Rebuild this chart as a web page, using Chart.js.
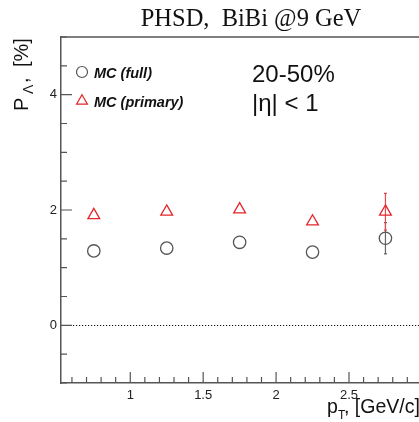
<!DOCTYPE html>
<html><head><meta charset="utf-8">
<script src="https://cdn.jsdelivr.net/npm/chart.js@4/dist/chart.umd.min.js"></script>
<style>
html,body{margin:0;padding:0;background:#fff;overflow:hidden;width:419px;height:422px}
#wrap{position:relative;width:430px;height:422px}
</style></head>
<body><div id="wrap"><canvas id="c" width="430" height="422"></canvas></div>
<script>
// ---- data ----
const pT = [0.75, 1.25, 1.75, 2.25, 2.75];
const mcFull = [1.29, 1.34, 1.44, 1.27, 1.51];
const mcFullErr = [0, 0, 0, 0, 0.27];
const mcPrimary = [1.91, 1.97, 2.01, 1.80, 1.97];
const mcPrimaryErr = [0, 0, 0, 0, 0.32];
const seriesLabels = ['MC (full)', 'MC (primary)'];
const xTickValues = [1, 1.5, 2, 2.5];
const yTickValues = [0, 2, 4];
const chartTitle = 'PHSD,  BiBi @9 GeV';
const annotationLines = ['20-50%', '|\u03b7| < 1'];
const xTitleParts = ['p', 'T', ', [GeV/c]'];
const yTitleParts = ['P', '\u039b', ',', '[%]'];

const GRAY = '#555555';
const RED = '#e3262b';

const decor = {
  id: 'decor',
  beforeDatasetsDraw(chart) {
    const {ctx, chartArea: a, scales: {x, y}} = chart;
    ctx.save();
    // dotted zero line
    ctx.strokeStyle = '#111';
    ctx.lineWidth = 1;
    ctx.setLineDash([1.2, 1.8]);
    const y0 = Math.round(y.getPixelForValue(0)) + 0.5;
    ctx.beginPath(); ctx.moveTo(a.left, y0); ctx.lineTo(a.right, y0); ctx.stroke();
    ctx.setLineDash([]);
    // error bars
    const errs = [[mcFull, mcFullErr, '#666'], [mcPrimary, mcPrimaryErr, '#e8484c']];
    errs.forEach(([vals, e, col]) => {
      ctx.strokeStyle = col; ctx.lineWidth = 1.2;
      vals.forEach((v, i) => {
        if (!e[i]) return;
        const px = x.getPixelForValue(pT[i]);
        const t = y.getPixelForValue(v + e[i]);
        const b = y.getPixelForValue(v - e[i]);
        ctx.beginPath();
        ctx.moveTo(px, t); ctx.lineTo(px, b);
        ctx.moveTo(px - 1.5, t); ctx.lineTo(px + 1.5, t);
        ctx.moveTo(px - 1.5, b); ctx.lineTo(px + 1.5, b);
        ctx.stroke();
      });
    });
    ctx.restore();
  },
  afterDraw(chart) {
    const {ctx, chartArea: a, scales: {x, y}} = chart;
    ctx.save();
    // top frame
    ctx.strokeStyle = GRAY; ctx.lineWidth = 1.5;
    ctx.beginPath(); ctx.moveTo(a.left, a.top); ctx.lineTo(a.right, a.top); ctx.stroke();
    // inside ticks
    ctx.lineWidth = 1.2;
    ctx.beginPath();
    for (let k = Math.ceil(y.min / 0.5); k * 0.5 <= y.max + 1e-9; k++) {
      const v = k * 0.5;
      const py = y.getPixelForValue(v);
      const len = (Math.abs(v % 2) < 1e-9) ? 11 : 6;
      ctx.moveTo(a.left, py); ctx.lineTo(a.left + len, py);
    }
    for (let k = Math.ceil(x.min / 0.1); k * 0.1 <= x.max + 1e-9; k++) {
      const v = k * 0.1;
      const px = x.getPixelForValue(v);
      const len = (k % 5 === 0) ? 11 : 6;
      ctx.moveTo(px, a.bottom); ctx.lineTo(px, a.bottom - len);
    }
    ctx.stroke();

    // title
    ctx.fillStyle = '#111';
    ctx.font = '24.5px "Liberation Serif"';
    ctx.textAlign = 'center'; ctx.textBaseline = 'alphabetic';
    ctx.fillText(chartTitle, 251, 26);

    // annotation
    ctx.textAlign = 'left';
    ctx.font = '24px "Liberation Sans"';
    ctx.fillText(annotationLines[0], 252, 82);
    ctx.fillText(annotationLines[1], 252, 111);

    // legend
    chart.data.datasets.forEach((ds, i) => {
      const ly = 72 + i * 29;
      ctx.strokeStyle = ds.borderColor;
      ctx.fillStyle = 'rgba(0,0,0,0)';
      ctx.lineWidth = 1.2;
      Chart.helpers.drawPoint(ctx, {pointStyle: ds.pointStyle, radius: ds.pointStyle === 'triangle' ? 6.3 : 5.5, rotation: 0, borderWidth: 1.2}, 82, ly);
      ctx.fillStyle = '#111';
      ctx.font = 'italic bold 14.5px "Liberation Sans"';
      ctx.fillText(ds.label, 94, ly + 6);
    });

    // x title
    ctx.fillStyle = '#111';
    ctx.font = '19.5px "Liberation Sans"';
    ctx.fillText(xTitleParts[0], 327, 413);
    ctx.font = '12px "Liberation Sans"';
    ctx.fillText(xTitleParts[1], 338, 419);
    ctx.font = '19.5px "Liberation Sans"';
    ctx.fillText(xTitleParts[2], 344, 413);

    // y title (rotated)
    ctx.translate(28, 111);
    ctx.rotate(-Math.PI / 2);
    ctx.font = '20px "Liberation Sans"';
    ctx.fillText(yTitleParts[0], 0, 0);
    ctx.font = '14px "Liberation Sans"';
    ctx.fillText(yTitleParts[1], 17, 5);
    ctx.font = '20px "Liberation Sans"';
    ctx.fillText(yTitleParts[2], 28, 0);
    ctx.fillText(yTitleParts[3], 44, 0);
    ctx.restore();
  }
};

new Chart(document.getElementById('c'), {
  type: 'scatter',
  data: {
    datasets: [
      {label: seriesLabels[0], data: pT.map((v, i) => ({x: v, y: mcFull[i]})),
       pointStyle: 'circle', radius: 6.2, borderColor: GRAY, borderWidth: 1.3,
       backgroundColor: 'rgba(0,0,0,0)'},
      {label: seriesLabels[1], data: pT.map((v, i) => ({x: v, y: mcPrimary[i]})),
       pointStyle: 'triangle', radius: 6.8, borderColor: RED, borderWidth: 1.3,
       backgroundColor: 'rgba(0,0,0,0)'}
    ]
  },
  options: {
    responsive: false, animation: false, devicePixelRatio: 1,
    layout: {padding: {top: 37, right: 5, left: 0, bottom: 0}},
    plugins: {legend: {display: false}, tooltip: {enabled: false}, title: {display: false}},
    scales: {
      x: {
        type: 'linear', min: 0.525, max: 3.0,
        afterFit(s) { s.height = 39; },
        afterBuildTicks(s) { s.ticks = xTickValues.map(v => ({value: v})); },
        grid: {display: false, drawTicks: false},
        border: {display: true, color: GRAY, width: 1.5},
        ticks: {padding: 5, color: '#222', font: {family: 'Liberation Sans', size: 13},
                maxRotation: 0, autoSkip: false, callback: v => String(v)}
      },
      y: {
        type: 'linear', min: -1, max: 5.0,
        afterFit(s) { s.width = 61; },
        afterBuildTicks(s) { s.ticks = yTickValues.map(v => ({value: v})); },
        grid: {display: false, drawTicks: false},
        border: {display: true, color: GRAY, width: 1.5},
        ticks: {padding: 4, color: '#222', font: {family: 'Liberation Sans', size: 13},
                callback: v => String(v)}
      }
    }
  },
  plugins: [decor]
});
</script>
</body></html>
